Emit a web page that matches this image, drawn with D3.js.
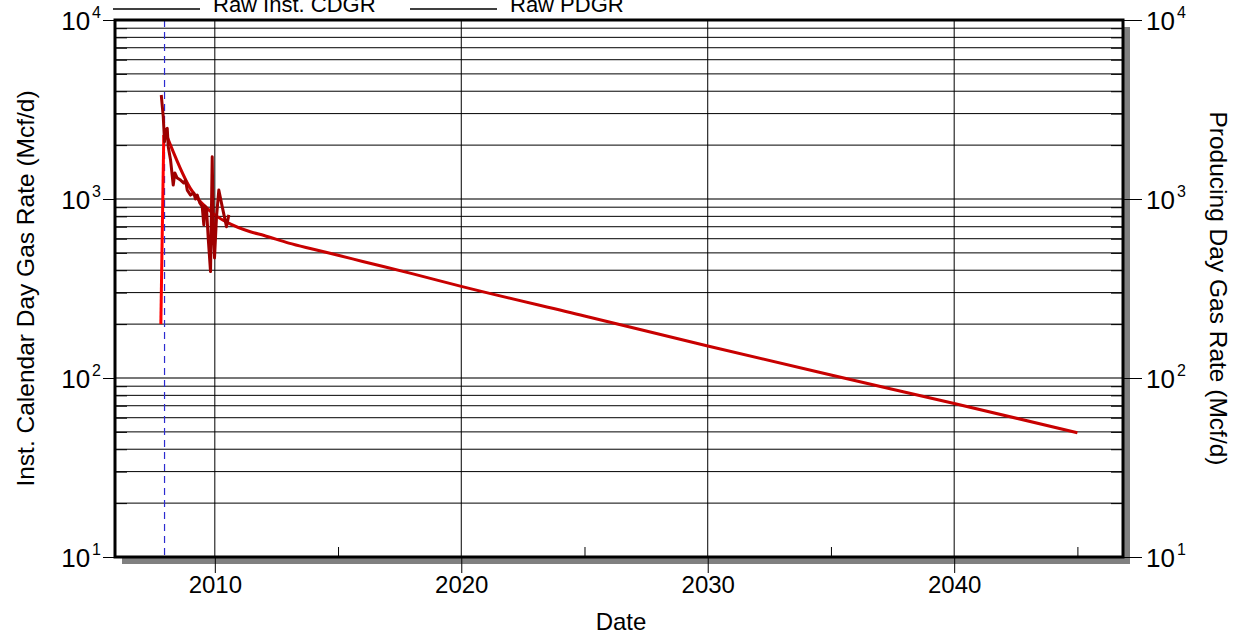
<!DOCTYPE html>
<html>
<head>
<meta charset="utf-8">
<script src="https://cdn.jsdelivr.net/npm/d3@7"></script>
<style>
  body { margin: 0; background: #fff; }
  svg text { font-family: "Liberation Sans", Arial, sans-serif; fill: #000; }
</style>
</head>
<body>
<svg id="chart" width="1243" height="637"></svg>
<script>
// rising start of the calendar-day rate (decimal year, Mcf/d)
const instYears = [2007.81, 2007.93];
const instRates = [200, 2280];

// producing day rate history
const pdgrYears = [2007.827, 2007.908, 2007.960, 2008.001, 2008.070, 2008.110, 2008.204, 2008.313,
  2008.378, 2008.475, 2008.609, 2008.743, 2008.812, 2008.881, 2009.015, 2009.148, 2009.217,
  2009.286, 2009.392, 2009.489, 2009.554, 2009.594, 2009.663, 2009.732, 2009.826, 2009.895,
  2009.935, 2009.988, 2010.069, 2010.162, 2010.300, 2010.474, 2010.568];
const pdgrRates = [3811, 2884, 2089, 2427, 2483, 1960, 1652, 1197,
  1397, 1309, 1276, 1228, 1276, 1122, 1052, 1080, 1000,
  1052, 950, 906, 716, 914, 891, 605, 393, 1722,
  700, 468, 796, 1122, 906, 700, 815];

// forecast
const fcstYears = [2008.0, 2009.0, 2010.0, 2010.5, 2011.44, 2012, 2013, 2014, 2015, 2016, 2018, 2020, 2025, 2030, 2035, 2040, 2045];
const fcstRates = [2350, 1150, 815, 740, 656, 625, 567, 524, 485, 448, 383, 325, 222, 151, 104, 72, 49.5];

const startYear = 2007.96;   // dashed marker

const xMajor = [2010, 2020, 2030, 2040];
const xMinor = [2015, 2025, 2035, 2045];
const yMajor = [10, 100, 1000, 10000];
const legendNames = ["Raw Inst. CDGR", "Raw PDGR"];

const svg = d3.select("#chart");
const L = 115, R = 1123, T = 20, B = 557;

const x = d3.scaleLinear().domain([2005.95, 2046.85]).range([L, R]);
const y = d3.scaleLog().domain([10, 10000]).range([B, T]);

// shadow
svg.append("rect").attr("x", R).attr("y", T + 7).attr("width", 7).attr("height", B - T).attr("fill", "#808080");
svg.append("rect").attr("x", L + 7).attr("y", B).attr("width", R - L).attr("height", 7).attr("fill", "#808080");
svg.append("rect").attr("x", L).attr("y", T).attr("width", R - L).attr("height", B - T).attr("fill", "#fff");

// horizontal grid
const yMinor = [];
[10, 100, 1000].forEach(d => { for (let k = 2; k <= 9; k++) yMinor.push(d * k); });
svg.append("g").selectAll("line").data(yMinor).enter().append("line")
  .attr("x1", L).attr("x2", R).attr("y1", d => y(d)).attr("y2", d => y(d))
  .attr("stroke", "#000").attr("stroke-width", 1);
svg.append("g").selectAll("line").data([100, 1000]).enter().append("line")
  .attr("x1", L).attr("x2", R).attr("y1", d => y(d)).attr("y2", d => y(d))
  .attr("stroke", "#777").attr("stroke-width", 2);

// vertical grid
svg.append("g").selectAll("line").data(xMajor).enter().append("line")
  .attr("x1", d => x(d)).attr("x2", d => x(d)).attr("y1", T).attr("y2", B)
  .attr("stroke", "#000").attr("stroke-width", 1);

// inward minor ticks on both sides
svg.append("g").attr("transform", `translate(${L},0)`)
  .call(d3.axisRight(y).tickValues(yMinor).tickSize(12).tickFormat(""))
  .call(g => g.select(".domain").remove());
svg.append("g").attr("transform", `translate(${R},0)`)
  .call(d3.axisLeft(y).tickValues(yMinor).tickSize(12).tickFormat(""))
  .call(g => g.select(".domain").remove());

// outward major ticks
const leftAx = svg.append("g").attr("transform", `translate(${L},0)`)
  .call(d3.axisLeft(y).tickValues(yMajor).tickSize(12).tickFormat(""));
const rightAx = svg.append("g").attr("transform", `translate(${R},0)`)
  .call(d3.axisRight(y).tickValues(yMajor).tickSize(19).tickFormat(""));
[leftAx, rightAx].forEach(g => g.select(".domain").remove());

function powLabel(sel, xPos, anchorEnd) {
  yMajor.forEach(v => {
    const t = sel.append("text").attr("y", y(v) + 10).attr("font-size", 26);
    if (anchorEnd) t.attr("x", xPos).attr("text-anchor", "end");
    else t.attr("x", xPos);
    t.append("tspan").text("10");
    t.append("tspan").attr("font-size", 16).attr("dy", -12).attr("dx", 2).text(Math.round(Math.log10(v)));
  });
}
powLabel(svg.append("g"), 101, true);
powLabel(svg.append("g"), 1146, false);

// x axis
svg.append("g").attr("transform", `translate(0,${B})`)
  .call(d3.axisBottom(x).tickValues(xMajor).tickSize(16).tickFormat(d3.format("d")))
  .call(g => g.select(".domain").remove())
  .call(g => g.selectAll("text").attr("font-size", 24).attr("dy", "0.72em")
    .style("font-family", "Liberation Sans, Arial, sans-serif"));
svg.append("g").attr("transform", `translate(0,${B})`)
  .call(d3.axisTop(x).tickValues(xMinor).tickSize(10).tickFormat(""))
  .call(g => g.select(".domain").remove());

// start marker
svg.append("line").attr("x1", x(startYear)).attr("x2", x(startYear)).attr("y1", T).attr("y2", B)
  .attr("stroke", "#2b2bd0").attr("stroke-width", 1.2).attr("stroke-dasharray", "7,5");

// series
const line = d3.line().x(d => x(d[0])).y(d => y(d[1]));
svg.append("path").datum(instYears.map((d, i) => [d, instRates[i]]))
  .attr("d", line).attr("fill", "none").attr("stroke", "#ff0000").attr("stroke-width", 3);
svg.append("path").datum(fcstYears.map((d, i) => [d, fcstRates[i]]))
  .attr("d", d3.line().curve(d3.curveMonotoneX).x(d => x(d[0])).y(d => y(d[1])))
  .attr("fill", "none").attr("stroke", "#c80000").attr("stroke-width", 3);
svg.append("path").datum(pdgrYears.map((d, i) => [d, pdgrRates[i]]))
  .attr("d", line).attr("fill", "none").attr("stroke", "#9e0000").attr("stroke-width", 3)
  .attr("stroke-linejoin", "round");

// frame
svg.append("rect").attr("x", L).attr("y", T).attr("width", R - L).attr("height", B - T)
  .attr("fill", "none").attr("stroke", "#000").attr("stroke-width", 3);

// axis titles
svg.append("text").attr("transform", `translate(34,${(T + B) / 2}) rotate(-90)`)
  .attr("text-anchor", "middle").attr("font-size", 24.5).text("Inst. Calendar Day Gas Rate (Mcf/d)");
svg.append("text").attr("transform", `translate(1210,${(T + B) / 2}) rotate(90)`)
  .attr("text-anchor", "middle").attr("font-size", 24.5).text("Producing Day Gas Rate (Mcf/d)");
svg.append("text").attr("x", 621).attr("y", 630).attr("text-anchor", "middle")
  .attr("font-size", 24).text("Date");

// legend (clipped at the top edge)
const legX = [113, 410];
legendNames.forEach((n, i) => {
  svg.append("line").attr("x1", legX[i]).attr("x2", legX[i] + 87).attr("y1", 9).attr("y2", 9)
    .attr("stroke", "#000").attr("stroke-width", 1.5);
  svg.append("text").attr("x", legX[i] + 100).attr("y", 12).attr("font-size", 22).attr("fill", "#222").text(n);
});
</script>
</body>
</html>
